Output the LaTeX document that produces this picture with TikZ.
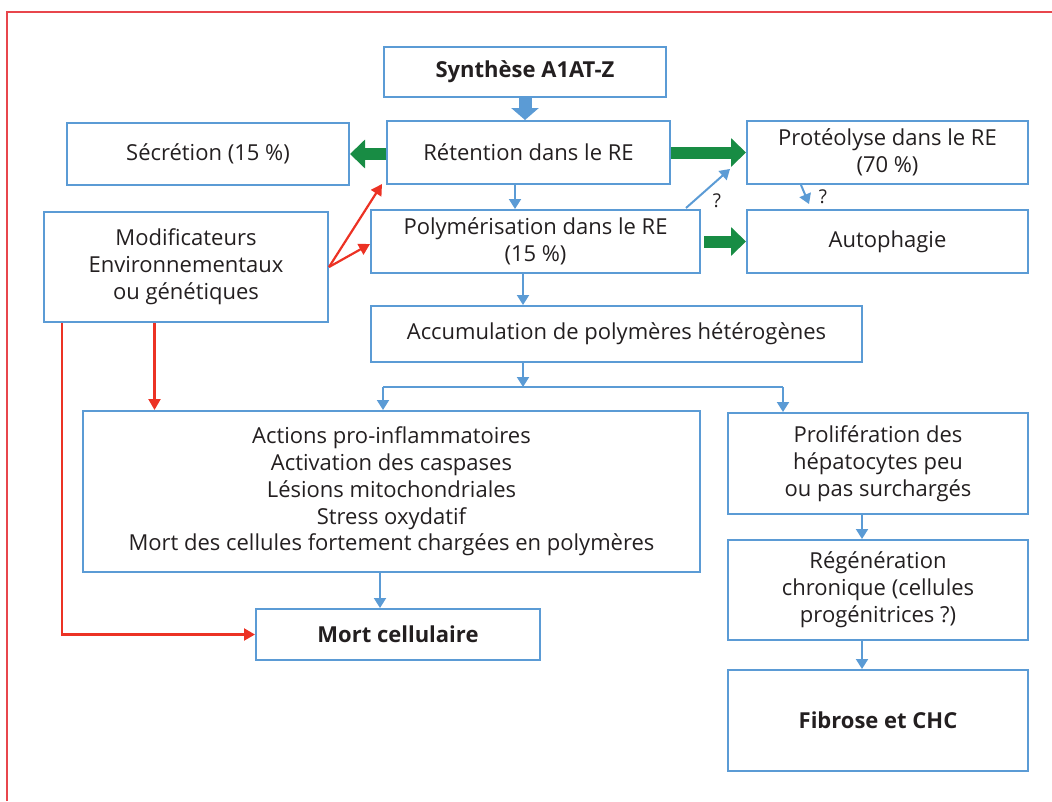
\documentclass[tikz,border=0pt]{standalone}
\usepackage{fontspec}
\setmainfont{Open Sans}
\usetikzlibrary{arrows.meta,calc}
\definecolor{boxblue}{RGB}{91,155,213}
\definecolor{agreen}{RGB}{24,140,68}
\definecolor{ared}{RGB}{236,50,36}
\definecolor{framered}{RGB}{232,70,76}
\definecolor{txt}{RGB}{35,31,32}
\tikzset{
  box/.style={draw=boxblue,line width=2pt,inner sep=0pt,align=center,text=txt,
    font=\fontsize{22}{26.8}\selectfont},
  bbox/.style={box,font=\fontsize{22}{26.8}\selectfont\bfseries},
  arr/.style={draw=boxblue,line width=2pt,-{Triangle[length=10pt,width=12pt]}},
  rarr/.style={draw=ared,line width=2.2pt,-{Triangle[length=11pt,width=12pt]}},
  garr/.style={draw=agreen,line width=12pt,-{Triangle[length=15pt,width=28pt]}},
  barr/.style={draw=boxblue,line width=13pt,-{Triangle[length=12pt,width=27pt]}},
  qm/.style={text=txt,font=\fontsize{19}{20}\selectfont,inner sep=0pt}
}
\begin{document}
\begin{tikzpicture}[x=1pt,y=-1pt]
\useasboundingbox (0,0) rectangle (1052,801);
\draw[framered,line width=2pt] (7,801) -- (7,12) -- (1052,12);

\node[bbox,minimum width=282pt,minimum height=50pt] (syn) at (525,72) {Synthèse A1AT-Z};
\node[box,minimum width=283pt,minimum height=63pt] (ret) at (528.5,152.5) {Rétention dans le RE};
\node[box,minimum width=282pt,minimum height=62pt] (sec) at (208,154) {Sécrétion (15 \%)};
\node[box,minimum width=281pt,minimum height=63pt] (pro) at (887.5,152.5) {Protéolyse dans le RE\\(70 \%)};
\node[box,minimum width=329pt,minimum height=63pt] (pol) at (535.5,241.5) {Polymérisation dans le RE\\(15 \%)};
\node[box,minimum width=281pt,minimum height=63pt] (aut) at (887.5,241.5) {Autophagie};
\node[box,minimum width=284pt,minimum height=110pt] (mod) at (186,267) {Modificateurs\\Environnementaux\\ou génétiques};
\node[box,minimum width=491pt,minimum height=56pt] (acc) at (616.5,334) {Accumulation de polymères hétérogènes};
\node[box,minimum width=617pt,minimum height=161pt] (act) at (391.5,491.5) {Actions pro-inflammatoires\\Activation des caspases\\Lésions mitochondriales\\Stress oxydatif\\Mort des cellules fortement chargées en polymères};
\node[box,minimum width=300pt,minimum height=101pt] (prol) at (878,463.5) {Prolifération des\\hépatocytes peu\\ou pas surchargés};
\node[box,minimum width=300pt,minimum height=100pt] (reg) at (878,590) {Régénération\\chronique (cellules\\progénitrices ?)};
\node[bbox,minimum width=284pt,minimum height=51pt] (mort) at (398,634.5) {Mort cellulaire};
\node[bbox,minimum width=300pt,minimum height=101pt] (fib) at (878,720.5) {Fibrose et CHC};

% block arrows
\draw[barr] (syn.south) -- (syn.south |- ret.north);
\draw[garr] ([yshift=-1.5pt]ret.west) -- ([yshift=-1.5pt]ret.west -| sec.east);
\draw[garr] (ret.east) -- (pro.west);
\draw[garr] ([xshift=3pt]pol.east) -- (aut.west);

% thin blue arrows
\draw[arr] ([xshift=-13.5pt]ret.south) -- ([xshift=-13.5pt]ret.south |- pol.north);
\draw[arr] ([xshift=-15pt,yshift=1pt]pol.north east) -- ([xshift=-16pt,yshift=16pt]pro.south west);
\node[qm] (q1) at (717,201) {?};
\draw[arr] ([xshift=55pt]pro.south west) -- ([xshift=63pt,yshift=5pt]aut.north west);
\node[qm] (q2) at (823,197) {?};
\draw[arr] ([xshift=-12.5pt]pol.south) -- ([xshift=-12.5pt]pol.south |- acc.north);
\coordinate (split) at (523,387);
\draw[arr] (acc.south -| split) -- (split);
\draw[line width=2pt,draw=boxblue] ([xshift=-8.5pt]act.north |- split) -- ([xshift=-95pt]prol.north |- split);
\draw[arr] ([xshift=-8.5pt]act.north |- split) -- ([xshift=-8.5pt]act.north);
\draw[arr] ([xshift=-95pt]prol.north |- split) -- ([xshift=-95pt]prol.north);
\draw[arr] ([xshift=-11.5pt]act.south) -- ([xshift=-11.5pt]act.south |- mort.north);
\draw[arr] ([xshift=-16pt]prol.south) -- ([xshift=-16pt]prol.south |- reg.north);
\draw[arr] ([xshift=-16pt]reg.south) -- ([xshift=-16pt]reg.south |- fib.north);

% red arrows
\coordinate (mr) at (329,267);
\draw[rarr] (mr) -- ([xshift=-4pt,yshift=1pt]ret.south west);
\draw[rarr] (mr) -- ([yshift=-2.5pt]pol.west);
\draw[rarr] ([xshift=-31.5pt]mod.south) -- ([xshift=-31.5pt]mod.south |- act.north);
\draw[rarr] ([xshift=-124pt]mod.south) |- (mort.west);
\end{tikzpicture}
\end{document}
